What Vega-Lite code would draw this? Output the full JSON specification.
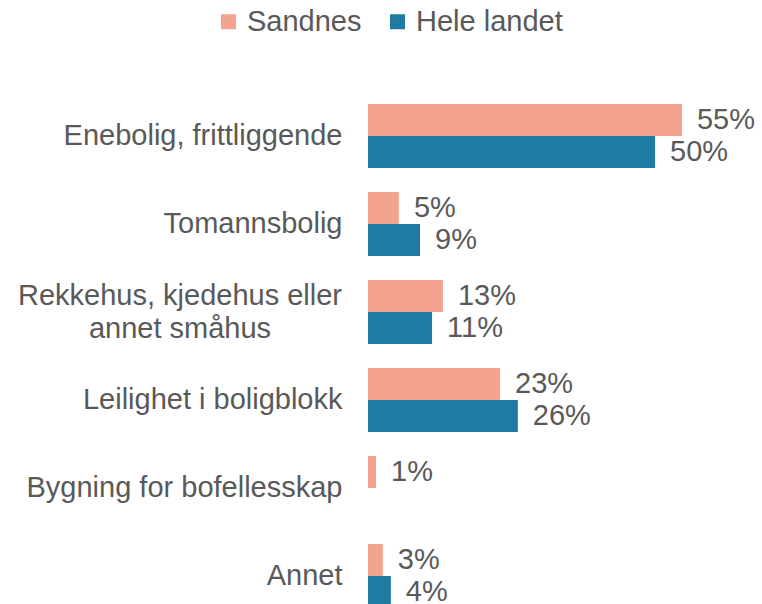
{
  "$schema": "https://vega.github.io/schema/vega-lite/v6.json",
  "width": 394,
  "height": 512,
  "autosize": "none",
  "padding": {"left": 368, "top": 92, "right": 0, "bottom": 0},
  "config": {
    "view": {"stroke": null},
    "font": "Liberation Sans",
    "text": {"font": "Liberation Sans"}
  },
  "data": {
    "values": [
      {"kategori": "Enebolig, frittliggende", "serie": "Sandnes", "verdi": 0.549},
      {"kategori": "Enebolig, frittliggende", "serie": "Hele landet", "verdi": 0.502},
      {"kategori": "Tomannsbolig", "serie": "Sandnes", "verdi": 0.054},
      {"kategori": "Tomannsbolig", "serie": "Hele landet", "verdi": 0.091},
      {"kategori": "Rekkehus, kjedehus eller annet småhus", "serie": "Sandnes", "verdi": 0.131},
      {"kategori": "Rekkehus, kjedehus eller annet småhus", "serie": "Hele landet", "verdi": 0.112},
      {"kategori": "Leilighet i boligblokk", "serie": "Sandnes", "verdi": 0.231},
      {"kategori": "Leilighet i boligblokk", "serie": "Hele landet", "verdi": 0.262},
      {"kategori": "Bygning for bofellesskap", "serie": "Sandnes", "verdi": 0.014},
      {"kategori": "Bygning for bofellesskap", "serie": "Hele landet", "verdi": 0},
      {"kategori": "Annet", "serie": "Sandnes", "verdi": 0.026},
      {"kategori": "Annet", "serie": "Hele landet", "verdi": 0.04}
    ]
  },
  "encoding": {
    "y": {
      "field": "kategori",
      "type": "nominal",
      "sort": ["Enebolig, frittliggende", "Tomannsbolig", "Rekkehus, kjedehus eller annet småhus", "Leilighet i boligblokk", "Bygning for bofellesskap", "Annet"],
      "scale": {"range": [0, 528], "paddingInner": 0.2727, "paddingOuter": 0.1364},
      "axis": {
        "title": null,
        "domain": false,
        "ticks": false,
        "labelFontSize": 29,
        "labelColor": "#595959",
        "labelPadding": 26,
        "labelLimit": 400,
        "labelFont": "Liberation Sans",
        "labelExpr": "datum.value == 'Rekkehus, kjedehus eller annet småhus' ? '' : datum.label"
      }
    }
  },
  "layer": [
    {
      "mark": {"type": "bar"},
      "encoding": {
        "x": {"field": "verdi", "type": "quantitative", "scale": {"domain": [0, 0.689], "nice": false}, "axis": null},
        "yOffset": {"field": "serie", "type": "nominal", "sort": ["Sandnes", "Hele landet"]},
        "color": {
          "field": "serie",
          "type": "nominal",
          "sort": ["Sandnes", "Hele landet"],
          "scale": {"domain": ["Sandnes", "Hele landet"], "range": ["#F4A391", "#1F7BA1"]},
          "legend": {
            "title": null,
            "orient": "none",
            "direction": "horizontal",
            "legendX": -154,
            "legendY": -85,
            "symbolType": "square",
            "symbolSize": 225,
            "symbolStrokeWidth": 0,
            "labelFontSize": 29,
            "labelColor": "#595959",
            "labelFont": "Liberation Sans",
            "labelOffset": 4,
            "columnPadding": 21
          }
        }
      }
    },
    {
      "transform": [{"filter": "datum.verdi > 0"}],
      "mark": {"type": "text", "align": "left", "baseline": "middle", "dx": 15, "fontSize": 29, "color": "#595959"},
      "encoding": {
        "x": {"field": "verdi", "type": "quantitative"},
        "yOffset": {"field": "serie", "type": "nominal", "sort": ["Sandnes", "Hele landet"]},
        "text": {"field": "verdi", "type": "quantitative", "format": ".0%"}
      }
    },
    {
      "transform": [{"filter": "datum.kategori == 'Rekkehus, kjedehus eller annet småhus' && datum.serie == 'Sandnes'"}],
      "mark": {"type": "text", "align": "center", "baseline": "middle", "dx": -188, "dy": -16, "fontSize": 29, "lineHeight": 33, "color": "#595959", "text": ["Rekkehus, kjedehus eller", "annet småhus"]},
      "encoding": {
        "x": {"datum": 0, "type": "quantitative"}
      }
    }
  ]
}
